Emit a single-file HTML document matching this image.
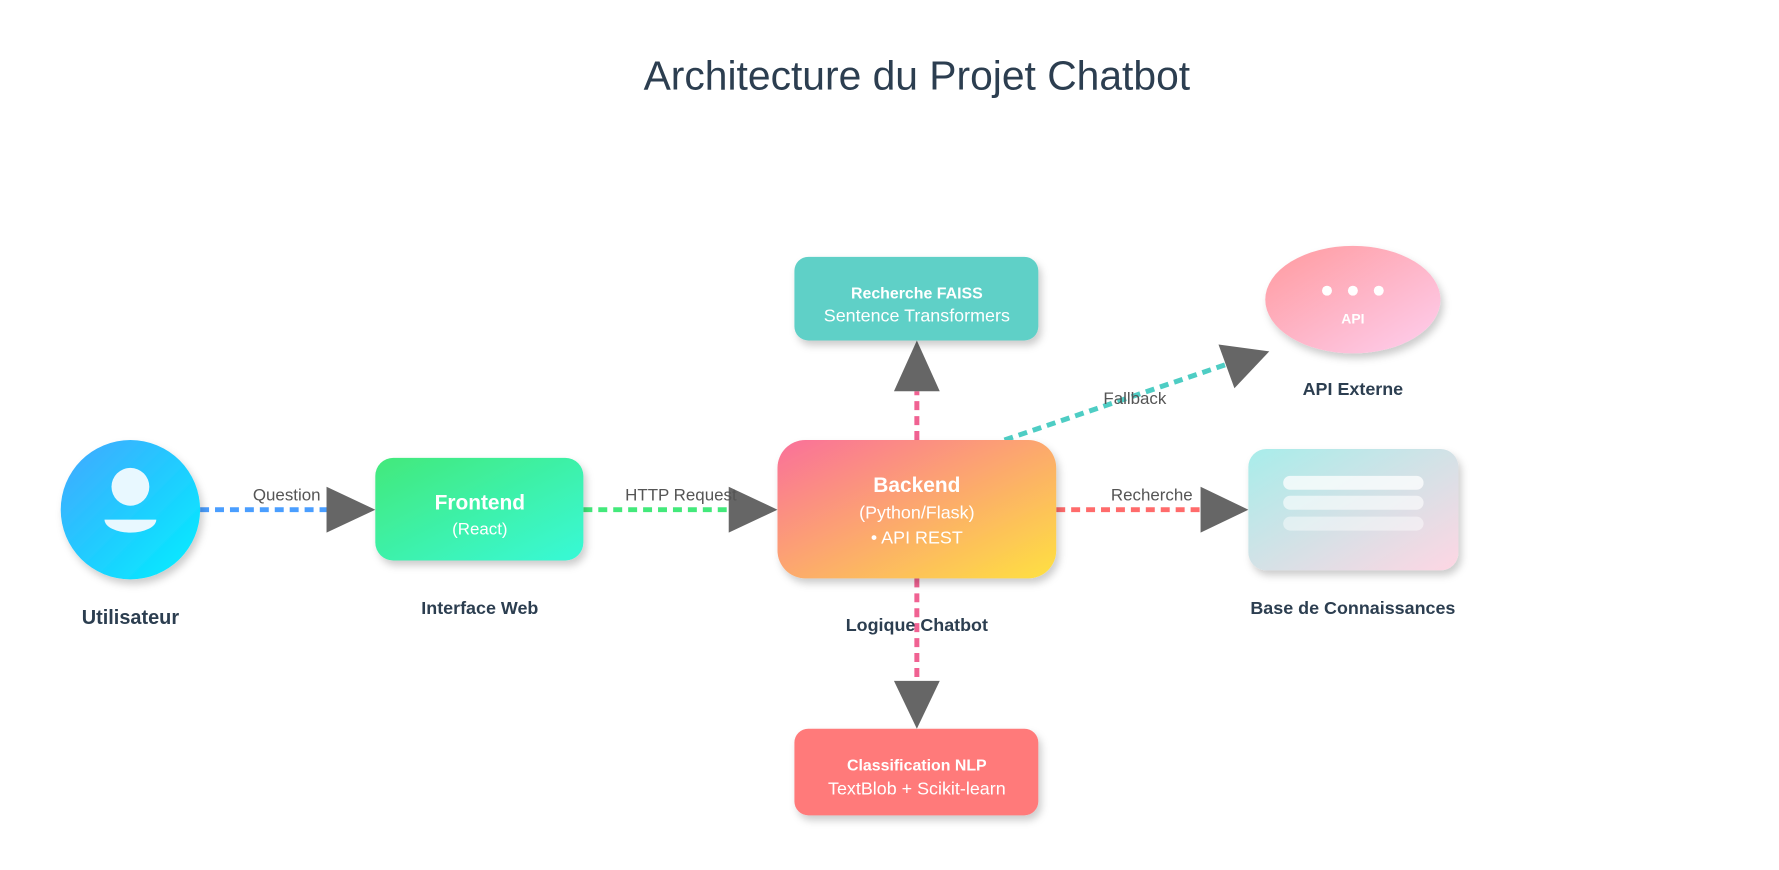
<!DOCTYPE html>
<html><head><meta charset="utf-8"><style>
html,body{margin:0;padding:0;background:#fff;}
svg{display:block;font-family:"Liberation Sans",sans-serif;}
</style></head><body>
<svg width="1779" height="870" viewBox="0 0 1779 870" xmlns="http://www.w3.org/2000/svg">
<defs>
<linearGradient id="gU" x1="0" y1="0" x2="1" y2="1"><stop offset="0" stop-color="#43a7ff"/><stop offset="1" stop-color="#00f0ff"/></linearGradient>
<linearGradient id="gF" x1="0" y1="0" x2="1" y2="1"><stop offset="0" stop-color="#43e97b"/><stop offset="1" stop-color="#38f9d7"/></linearGradient>
<linearGradient id="gB" x1="0" y1="0" x2="1" y2="1"><stop offset="0" stop-color="#fa709a"/><stop offset="1" stop-color="#fee140"/></linearGradient>
<linearGradient id="gA" x1="0" y1="0" x2="1" y2="1"><stop offset="0" stop-color="#ff9a9e"/><stop offset="1" stop-color="#fecfef"/></linearGradient>
<linearGradient id="gK" x1="0" y1="0" x2="1" y2="1"><stop offset="0" stop-color="#a8edea"/><stop offset="1" stop-color="#fed6e3"/></linearGradient>
<filter id="sh" x="-20%" y="-20%" width="150%" height="150%"><feDropShadow dx="3" dy="5" stdDeviation="4" flood-color="#000" flood-opacity="0.2"/></filter>
</defs>
<g transform="scale(0.9955)">
<text x="921" y="90" text-anchor="middle" font-size="41" fill="#2c3e50" font-weight="300">Architecture du Projet Chatbot</text>

<g stroke-width="5" stroke-dasharray="9 6" fill="none">
<line x1="201" y1="512" x2="330" y2="512" stroke="#4a9eff"/>
<line x1="586" y1="512" x2="734" y2="512" stroke="#43e97b"/>
<line x1="1061" y1="512" x2="1208" y2="512" stroke="#ff6b6b"/>
<line x1="921" y1="442" x2="921" y2="393" stroke="#f06292"/>
<line x1="921" y1="581" x2="921" y2="684" stroke="#f06292"/>
<line x1="1009" y1="442" x2="1235" y2="365" stroke="#4ecdc4"/>
</g>
<g fill="#666">
<polygon points="377,512 328,489 328,535"/>
<polygon points="781,512 732,489 732,535"/>
<polygon points="1254,512 1206,489 1206,535"/>
<polygon points="921,342 898,393 944,393"/>
<polygon points="921,732 898,684 944,684"/>
<polygon points="1275,353 1224,346 1240,390"/>
</g>
<g font-size="17" fill="#555" text-anchor="middle">
<text x="288" y="503">Question</text>
<text x="684" y="503">HTTP Request</text>
<text x="1157" y="503">Recherche</text>
<text x="1140" y="406">Fallback</text>
</g>

<circle cx="131" cy="512" r="70" fill="url(#gU)" filter="url(#sh)"/>
<circle cx="131" cy="489" r="19" fill="#e8f8ff"/>
<path d="M105 522 A26 13 0 0 0 157 522 Z" fill="#e8f8ff"/>
<text x="131" y="627" text-anchor="middle" font-size="20" font-weight="bold" fill="#2c3e50">Utilisateur</text>

<rect x="377" y="460" width="209" height="103" rx="18" fill="url(#gF)" filter="url(#sh)"/>
<text x="482" y="512" text-anchor="middle" font-size="21" font-weight="bold" fill="#fff">Frontend</text>
<text x="482" y="537" text-anchor="middle" font-size="17" fill="#fff">(React)</text>
<text x="482" y="617" text-anchor="middle" font-size="18" font-weight="bold" fill="#2c3e50">Interface Web</text>

<rect x="781" y="442" width="280" height="139" rx="28" fill="url(#gB)" filter="url(#sh)"/>
<text x="921" y="494" text-anchor="middle" font-size="21" font-weight="bold" fill="#fff">Backend</text>
<text x="921" y="521" text-anchor="middle" font-size="18" fill="#fff">(Python/Flask)</text>
<text x="921" y="546" text-anchor="middle" font-size="18" fill="#fff">• API REST</text>
<text x="921" y="634" text-anchor="middle" font-size="18" font-weight="bold" fill="#2c3e50">Logique Chatbot</text>

<rect x="798" y="258" width="245" height="84" rx="14" fill="#5fd0c7" filter="url(#sh)"/>
<text x="921" y="300" text-anchor="middle" font-size="16" font-weight="bold" fill="#fff">Recherche FAISS</text>
<text x="921" y="323" text-anchor="middle" font-size="18" fill="#fff">Sentence Transformers</text>

<rect x="798" y="732" width="245" height="87" rx="14" fill="#ff7a7a" filter="url(#sh)"/>
<text x="921" y="774" text-anchor="middle" font-size="16" font-weight="bold" fill="#fff">Classification NLP</text>
<text x="921" y="798" text-anchor="middle" font-size="18" fill="#fff">TextBlob + Scikit-learn</text>

<ellipse cx="1359" cy="301" rx="88" ry="54" fill="url(#gA)" filter="url(#sh)"/>
<circle cx="1333" cy="292" r="5" fill="#fff"/>
<circle cx="1359" cy="292" r="5" fill="#fff"/>
<circle cx="1385" cy="292" r="5" fill="#fff"/>
<text x="1359" y="325" text-anchor="middle" font-size="14" font-weight="bold" fill="#fff">API</text>
<text x="1359" y="397" text-anchor="middle" font-size="18" font-weight="bold" fill="#2c3e50">API Externe</text>

<rect x="1254" y="451" width="211" height="122" rx="18" fill="url(#gK)" filter="url(#sh)"/>
<rect x="1289" y="478" width="141" height="14" rx="7" fill="#fff" opacity="0.75"/>
<rect x="1289" y="498" width="141" height="14" rx="7" fill="#fff" opacity="0.6"/>
<rect x="1289" y="519" width="141" height="14" rx="7" fill="#fff" opacity="0.45"/>
<text x="1359" y="617" text-anchor="middle" font-size="18" font-weight="bold" fill="#2c3e50">Base de Connaissances</text>
</g>
</svg>
</body></html>
